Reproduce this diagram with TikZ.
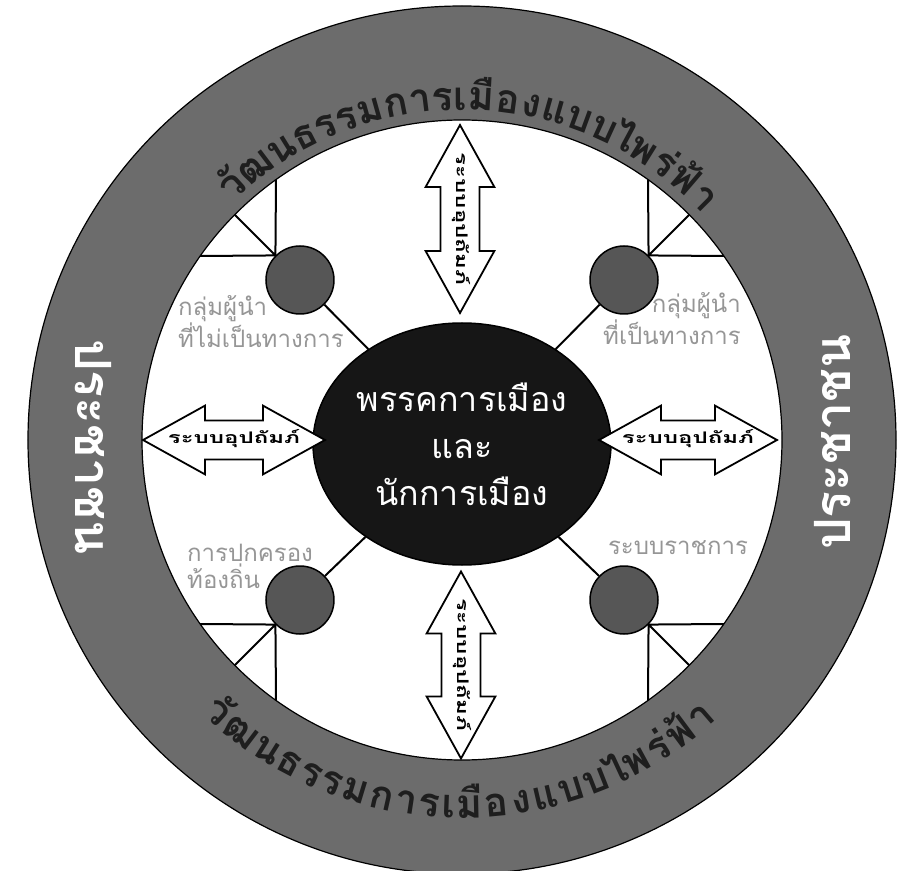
\documentclass[tikz,border=0pt]{standalone}
\usepackage{fontspec}
\usetikzlibrary{calc}
\usetikzlibrary{shapes.geometric}
\usetikzlibrary{shapes.arrows}
\newfontfamily\thaifont[Script=Thai]{Loma}
\newfontfamily\thaiwide[Script=Thai,FakeStretch=1.5]{Loma}
\definecolor{ringgray}{RGB}{108,108,108}
\definecolor{dotgray}{RGB}{86,86,86}
\definecolor{coreblack}{RGB}{22,22,22}
\definecolor{labelgray}{RGB}{150,150,150}
\definecolor{ringink}{RGB}{30,30,30}
\def\ringsize{40}
\newcommand\ringfont{\thaifont\bfseries\fontsize{\ringsize}{\ringsize}\selectfont}
\newcommand\ringwords[6]{%
  \gdef\ringpos{0}%
  \foreach \ch/\w in #6 {%
    \pgfmathsetmacro\ringang{#1+(#3)*(\ringpos+0.5*\w/1000*\ringsize)/#2*57.2958}%
    \node[ringtext, rotate=\ringang+#4] at (\ringang:#2) {\ch};%
    \pgfmathsetmacro\ringnext{\ringpos+\w/1000*\ringsize*1.05+#5}%
    \global\let\ringpos\ringnext
  }%
}
\def\culture{วั/530,ฒ/800,น/600,ธ/530,ร/470,ร/470,ม/600,ก/560,า/500,ร/470,เ/290,มื/600,อ/560,ง/480,แ/560,บ/580,บ/580,ไ/330,พ/640,ร่/470,ฟ้/640,า/500}
\tikzset{
  leader/.style={circle, draw, line width=1.5pt, fill=dotgray, minimum size=68pt, inner sep=0pt},
  link/.style={line width=2pt},
  patron/.style={double arrow, draw, line width=1.8pt, fill=white, double arrow tip angle=58,
    double arrow head extend=15pt, inner ysep=0pt, inner xsep=-32pt, text height=22pt, text depth=15pt,
    font=\thaiwide\bfseries\fontsize{16}{16}\selectfont},
  glabel/.style={text=labelgray, inner sep=0pt, font=\thaifont\fontsize{24}{27}\selectfont},
  ringtext/.style={anchor=base, text=ringink, inner sep=0pt, font=\ringfont},
  people/.style={text=white, inner sep=0pt, font=\thaifont\bfseries\fontsize{50}{50}\selectfont}
}
\begin{document}
\begin{tikzpicture}[x=1pt,y=1pt]
\useasboundingbox (-462,-430) rectangle (440,440);
\fill[white] (-462,-430) rectangle (440,440);

\draw[fill=ringgray, even odd rule, line width=1.2pt] (0,0) circle (434) (0,0) circle (320);

\node[ellipse, draw, line width=1.5pt, fill=coreblack, minimum width=266pt, minimum height=242pt,
  inner sep=0pt, text=white, align=center, font=\thaifont\fontsize{34}{47}\selectfont]
  (core) at (0,-4) {พรรคการเมือง\\และ\\นักการเมือง};

\foreach \n/\sx/\sy/\a in {tl/-1/1/135, tr/1/1/45, bl/-1/-1/225, br/1/-1/315} {
  \node[leader] (\n) at (\sx*162,\sy*160) {};
  \coordinate (\n v) at (\sx*186,\sy*260.4);
  \coordinate (\n h) at (\sx*261.8,\sy*184);
  \coordinate (\n d) at (\sx*227.3,\sy*225.3);
  \draw[link] (\n v) -- (\n.\a) -- (\n h) (\n.\a) -- (\n d);
  \draw[link] (\n) -- (core);
}

\node[patron, rotate=-90, minimum height=188pt] (uparrow) at (-2,221) {ระบบอุปถัมภ์};
\node[patron, rotate=-90, minimum height=187pt] (downarrow) at (-1,-225) {ระบบอุปถัมภ์};
\node[patron, minimum height=182pt] (leftarrow) at (-228,0) {ระบบอุปถัมภ์};
\node[patron, minimum height=178pt] (rightarrow) at (226,0) {ระบบอุปถัมภ์};

\node[glabel, anchor=west, align=left] (tllabel) at (-284,118) {กลุ่มผู้นำ\\ที่ไม่เป็นทางการ};
\node[glabel, anchor=east, align=right] (trlabel) at (279,121) {กลุ่มผู้นำ\\ที่เป็นทางการ};
\node[glabel, anchor=west, align=left] (bllabel) at (-275,-126) {การปกครอง\\ท้องถิ่น};
\node[glabel] (brlabel) at (216,-108) {ระบบราชการ};

\node[people, rotate=-90] (leftfolk) at (-369,-7) {ประชาชน};
\node[people, rotate=90] (rightfolk) at (371,-2) {ประชาชน};

\ringwords{134}{330}{-1}{-90}{1.4}{\culture}
\ringwords{226.5}{378}{1}{90}{3.5}{\culture}
\end{tikzpicture}
\end{document}
